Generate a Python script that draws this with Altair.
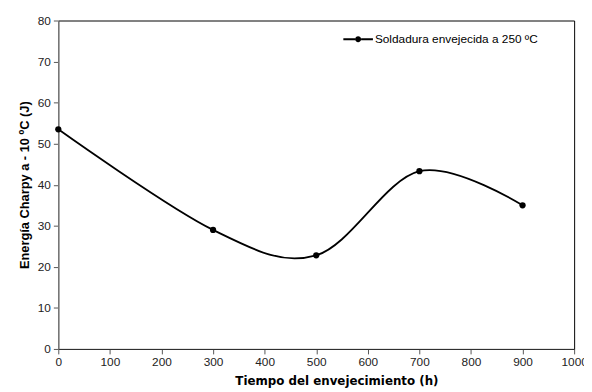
import altair as alt
import pandas as pd

horas = [0, 300, 500, 700, 900]
energia = [53.5, 29.0, 22.8, 43.3, 35.0]
serie = ["Soldadura envejecida a 250 ºC"] * len(horas)

df = pd.DataFrame({"h": horas, "E": energia, "s": serie})

x = alt.X("h:Q", scale=alt.Scale(domain=[0, 1000], nice=False),
          axis=alt.Axis(values=list(range(0, 1001, 100)), format="d",
                        title="Tiempo del envejecimiento (h)",
                        titleX=282, titleAlign="center", domainColor="#333333"))
y = alt.Y("E:Q", scale=alt.Scale(domain=[0, 80], nice=False),
          axis=alt.Axis(values=list(range(0, 81, 10)), title="Energía Charpy a - 10 ºC (J)",
                        domainColor="#888888"))

line = alt.Chart(df).mark_line(interpolate="cardinal", color="black", strokeWidth=1.8).encode(x=x, y=y)

sym = ("M-1,-0.06L-0.2,-0.06L-0.2,0.06L-1,0.06Z "
       "M0.2,-0.06L1,-0.06L1,0.06L0.2,0.06Z "
       "M-0.2,0A0.2,0.2 0 1,1 0.2,0A0.2,0.2 0 1,1 -0.2,0Z")

pts = alt.Chart(df).mark_circle(size=40, opacity=1).encode(
    x=x, y=y,
    color=alt.Color("s:N", scale=alt.Scale(range=["black"]),
                    legend=alt.Legend(title=None, orient="none", legendX=289, legendY=4,
                                      symbolType=sym, symbolSize=900, padding=0,
                                      symbolFillColor="black", symbolStrokeWidth=0,
                                      symbolOpacity=1,
                                      labelFont="Liberation Sans", labelFontSize=12,
                                      labelColor="black", labelOffset=2, labelLimit=300)),
)

chart = (line + pts).properties(
    width=523, height=333,
    autosize=alt.AutoSizeParams(type="none"),
    padding={"left": 51, "top": 10, "right": 10, "bottom": 44},
).configure_view(stroke="black", strokeWidth=1).configure_axis(
    grid=False, ticks=True, tickSize=5, tickColor="#555555",
    labelFont="Liberation Sans", labelFontSize=12, labelColor="#222222", labelPadding=3,
    titleFont="DejaVu Sans", titleFontSize=12, titleFontWeight="bold", titleColor="black",
).configure_axisX(titlePadding=8, labelFlush=False).configure_axisY(
    titleFont="Liberation Sans", titleFontSize=13, titlePadding=6
)

chart.save("out.html", embed_options={"renderer": "svg", "actions": False})
